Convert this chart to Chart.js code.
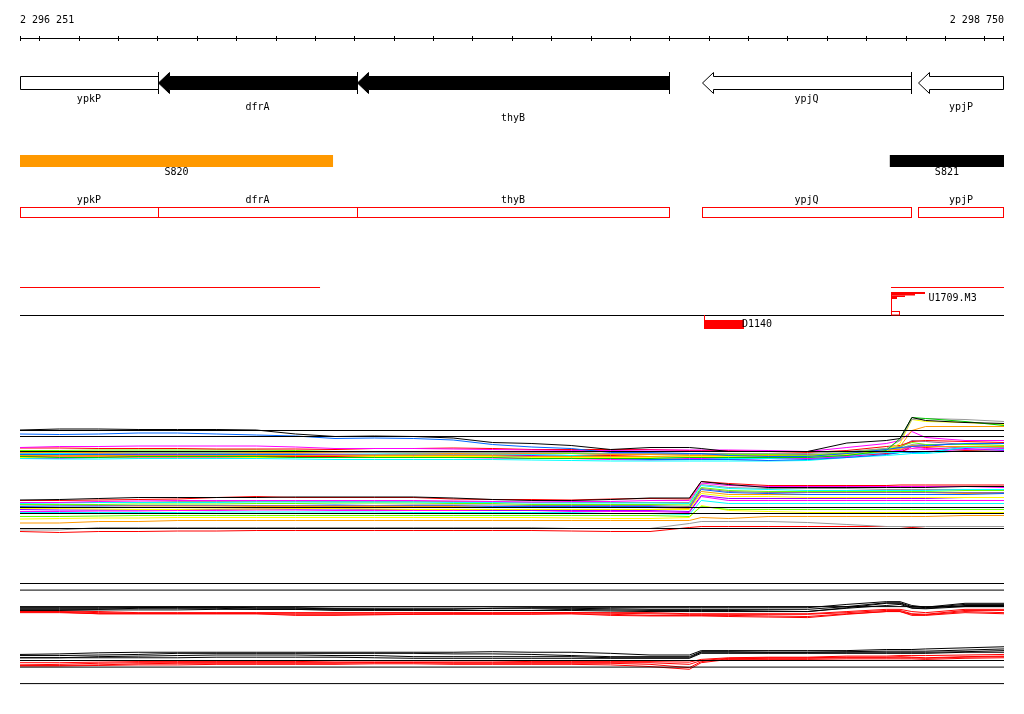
<!DOCTYPE html>
<html><head><meta charset="utf-8">
<script src="https://cdn.jsdelivr.net/npm/chart.js@4.4.0/dist/chart.umd.min.js"></script>
<style>html,body{margin:0;padding:0;background:#fff;}canvas{display:block;}</style>
</head><body>
<canvas id="c" width="1024" height="714"></canvas>
<script>
// ---------- genomic window & ruler ----------
const viewStart = 2296251, viewEnd = 2298750;
const rulerTicks = [2296300,2296400,2296500,2296600,2296700,2296800,2296900,2297000,2297100,2297200,2297300,2297400,2297500,2297600,2297700,2297800,2297900,2298000,2298100,2298200,2298300,2298400,2298500,2298600,2298700];
const rulerLabels = ['2 296 251', '2 298 750'];

// ---------- genes ----------
const geneNames  = ['ypkP','dfrA','thyB','ypjQ','ypjP'];
const geneStarts = [2296100, 2296601, 2297107, 2297983, 2298532];
const geneEnds   = [2296601, 2297107, 2297899, 2298514, 2298900];
const geneStrand = ['-','-','-','-','-'];

// ---------- segments / transcription units / promoters ----------
const segNames  = ['S820','S821'];
const segStarts = [2296100, 2298460];
const segEnds   = [2297046, 2298900];
const tuStarts  = [2296100, 2298463];
const tuEnds    = [2297013, 2298900];
const upNames = ['U1709.M3']; const upPos = [2298463];
const dnNames = ['D1140'];    const dnPos = [2297988];

// ---------- expression tracks: probe positions ----------
const xGrid = [2296251,2296351,2296451,2296551,2296651,2296751,2296851,2296951,2297051,2297151,2297251,2297351,2297451,2297551,2297651,2297751,2297851,2297951,2297981,2298051,2298151,2298251,2298351,2298451,2298486,2298516,2298551,2298651,2298750];
const thresholds = [14.0, 12.8, 9.8];

// panel A (upper strand profiles)
const A1  = [14.1,14.3,14.3,14.2,14.2,14.2,14.1,13.3,12.8,12.9,12.8,12.5,11.6,11.4,11.0,10.2,10.6,10.6,10.4,9.8,9.8,9.8,11.5,12.0,12.4,16.6,16.0,15.6,15.4];
const A2  = [13.3,13.2,13.3,13.5,13.5,13.3,13.1,12.9,12.4,12.5,12.4,12.1,11.2,10.7,10.4,9.6,9.6,9.4,9.4,9.0,8.8,8.8,9.4,10.2,10.6,10.8,11.0,11.4,11.4];
const A3  = [10.6,10.8,10.8,10.9,10.9,10.9,10.9,10.7,10.4,10.4,10.4,10.3,10.2,10.1,10.0,10.0,10.1,10.1,10.1,10.1,10.0,9.8,10.6,11.4,12.0,13.8,12.6,12.0,12.0];
const A4  = [10.5,10.5,10.4,10.4,10.4,10.3,10.3,10.3,10.2,10.4,10.4,10.5,10.4,10.2,10.2,10.2,10.2,10.0,10.0,10.0,9.8,9.6,10.0,10.8,11.0,11.8,12.0,11.8,11.6];
const A5  = [10.0,10.0,10.1,10.1,10.1,10.1,10.1,10.0,9.8,9.8,9.8,9.8,9.6,9.6,9.4,9.4,9.4,9.4,9.4,9.2,9.2,9.0,9.6,10.4,10.8,11.6,11.2,11.2,11.0];
const A6  = [9.6,9.6,9.6,9.7,9.7,9.7,9.6,9.6,9.6,9.6,9.5,9.4,9.5,9.4,9.4,9.2,9.2,9.0,9.0,9.0,9.0,9.0,9.4,10.2,10.2,11.0,10.8,10.8,10.8];
const A7  = [9.5,9.4,9.6,9.6,9.6,9.6,9.6,9.6,9.6,9.5,9.4,9.4,9.4,9.2,9.0,8.8,8.6,8.6,8.6,8.4,8.4,8.6,9.0,9.6,9.6,9.8,9.6,10.6,10.8];
const A8  = [9.4,9.4,9.4,9.4,9.4,9.4,9.4,9.4,9.3,9.2,9.2,9.2,9.2,9.2,9.4,9.2,9.2,9.2,9.2,9.2,9.2,9.0,9.2,10.0,10.4,11.2,10.8,10.6,10.6];
const A9  = [9.2,9.2,9.2,9.1,9.1,9.2,9.2,9.2,9.0,9.0,9.0,9.0,8.8,8.8,8.6,8.4,8.2,8.2,8.2,8.2,8.0,8.2,8.6,9.2,9.6,9.6,9.6,10.6,10.6];
const A10 = [9.0,8.9,8.9,9.0,9.0,9.0,9.0,9.0,9.0,8.9,8.8,8.8,8.8,8.8,8.6,8.6,8.6,8.4,8.4,8.4,8.6,8.4,8.8,9.8,10.0,10.8,10.4,10.2,10.4];
const A11 = [8.6,8.7,8.7,8.7,8.7,8.7,8.6,8.6,8.6,8.8,8.8,8.8,8.8,8.6,8.6,8.6,8.6,8.8,8.8,8.8,8.8,8.8,9.2,10.0,11.4,16.2,15.8,15.6,15.2];
const A12 = [8.8,8.6,8.6,8.8,8.8,8.8,8.8,8.6,8.6,8.6,8.6,8.6,8.6,8.4,8.4,8.4,8.4,8.6,8.6,8.6,8.6,8.6,9.0,10.0,12.4,16.6,16.4,15.8,15.0];
const A13 = [9.8,9.8,9.8,9.8,9.8,9.8,9.8,9.8,9.7,9.6,9.6,9.6,9.6,9.6,9.6,9.4,9.4,9.4,9.4,9.4,9.4,9.4,9.8,10.4,12.0,16.2,16.4,16.2,15.8];
const A14 = [9.0,9.0,9.0,9.0,9.0,9.0,9.0,9.0,9.0,9.0,9.0,9.0,9.0,8.8,8.8,8.8,8.8,8.8,8.8,8.8,8.8,8.8,9.2,9.8,10.8,14.0,14.8,14.8,14.8];
const A15 = [9.3,9.3,9.2,9.2,9.2,9.2,9.2,9.2,9.2,9.2,9.2,9.0,9.0,9.0,8.8,8.8,8.8,8.8,8.8,8.8,8.8,8.8,9.0,9.6,10.0,11.0,11.2,10.4,10.0];
const A16 = [9.6,9.6,9.6,9.6,9.6,9.6,9.6,9.6,9.6,9.6,9.5,9.4,9.4,9.4,9.4,9.4,9.4,9.4,9.4,9.4,9.2,9.2,9.4,10.2,10.6,12.0,11.8,11.2,11.4];
const A17 = [8.8,8.8,8.8,8.8,8.8,8.8,8.8,8.8,8.8,8.8,8.8,8.8,8.8,8.8,9.0,9.0,8.8,8.8,8.8,8.8,8.8,8.8,9.0,9.4,9.6,10.8,10.6,10.0,9.8];
const A18 = [8.4,8.3,8.3,8.4,8.4,8.4,8.4,8.3,8.2,8.2,8.2,8.2,8.2,8.1,8.0,7.9,7.9,7.9,7.9,7.9,7.9,8.0,8.6,9.0,9.2,9.4,9.4,10.0,10.2];
const A19 = [8.4,8.4,8.6,8.6,8.6,8.6,8.6,8.6,8.6,8.6,8.6,8.6,8.5,8.4,8.4,8.2,8.1,8.2,8.2,8.2,8.4,8.4,8.8,9.4,9.8,10.4,10.2,9.8,9.8];

// panel B (lower strand profiles)
const B1  = [15.5,15.6,15.8,16.0,16.0,16.0,16.0,16.1,16.1,16.1,16.1,15.9,15.6,15.4,15.4,15.6,15.9,15.9,19.2,18.6,18.0,18.0,18.0,18.0,18.0,18.0,18.0,18.2,18.2];
const B2  = [15.4,15.4,15.5,15.6,15.7,16.0,16.2,16.0,16.0,16.0,16.0,15.7,15.6,15.6,15.5,15.7,15.8,15.7,19.2,18.8,18.4,18.4,18.4,18.4,18.5,18.5,18.5,18.5,18.5];
const B3  = [15.0,15.0,15.2,15.3,15.4,15.4,15.4,15.4,15.4,15.4,15.4,15.3,15.2,15.1,15.2,15.2,15.4,15.4,18.9,18.4,18.2,18.2,18.2,18.2,18.2,18.2,18.2,18.2,18.0];
const B4  = [14.8,14.9,15.0,15.0,15.0,15.0,15.1,15.1,15.1,15.1,15.1,15.0,15.0,14.9,14.9,14.9,14.9,14.8,18.4,17.8,17.6,17.4,17.4,17.4,17.4,17.4,17.4,17.6,17.6];
const B5  = [15.0,15.0,15.0,15.0,15.2,15.2,15.2,15.2,15.2,15.2,15.2,15.2,15.1,15.0,15.0,15.0,15.0,15.0,18.6,18.0,17.8,17.8,17.8,17.6,17.6,17.6,17.6,17.6,17.6];
const B6  = [14.6,14.6,14.6,14.7,14.7,14.7,14.8,14.8,14.9,14.9,14.9,14.8,14.8,14.6,14.6,14.6,14.6,14.5,18.0,17.4,17.2,17.2,17.2,17.2,17.2,17.2,17.2,17.4,17.4];
const B7  = [14.2,14.3,14.3,14.4,14.4,14.4,14.4,14.4,14.5,14.4,14.4,14.4,14.2,14.2,14.2,14.2,14.2,14.0,17.6,17.0,16.8,16.6,16.6,16.6,16.6,16.6,16.6,16.6,16.8];
const B8  = [14.0,14.0,14.0,14.1,14.1,14.1,14.2,14.2,14.2,14.2,14.2,14.2,14.1,14.0,14.0,14.0,14.0,13.8,17.2,16.6,16.6,16.6,16.6,16.6,16.6,16.6,16.6,16.8,16.8];
const B9  = [13.8,13.8,13.7,13.6,13.6,13.7,13.7,13.8,13.8,13.7,13.6,13.6,13.6,13.6,13.6,13.6,13.6,13.6,16.8,16.2,16.2,16.0,16.0,16.0,16.0,16.0,16.0,16.0,16.0];
const B10 = [13.6,13.5,13.5,13.5,13.6,13.6,13.7,13.7,13.7,13.6,13.6,13.6,13.4,13.4,13.4,13.4,13.4,13.2,16.4,15.8,15.8,15.8,15.8,15.8,15.8,15.8,15.8,16.0,16.0];
const B11 = [13.2,13.2,13.3,13.3,13.4,13.4,13.5,13.5,13.4,13.4,13.4,13.4,13.4,13.4,13.2,13.2,13.2,13.0,16.2,15.4,15.4,15.4,15.4,15.4,15.4,15.4,15.4,15.4,15.4];
const B12 = [14.5,14.5,14.4,14.4,14.4,14.4,14.4,14.4,14.4,14.4,14.5,14.5,14.5,14.4,14.4,14.4,14.4,14.2,17.8,17.2,17.0,17.0,17.0,17.0,17.0,17.0,17.0,17.0,17.0];
const B13 = [13.0,13.0,13.0,13.0,13.0,13.1,13.1,13.1,13.1,13.1,13.0,13.0,13.0,13.0,13.0,12.8,12.8,12.6,15.4,14.8,14.8,14.8,14.8,14.8,14.8,14.8,14.8,14.8,14.8];
const B14 = [12.2,12.2,12.3,12.4,12.4,12.4,12.4,12.4,12.4,12.4,12.4,12.4,12.4,12.4,12.4,12.4,12.4,12.2,14.2,13.6,13.6,13.6,13.6,13.6,13.6,13.6,13.6,13.6,13.6];
const B15 = [11.7,11.8,11.9,11.9,12.0,12.0,12.0,12.0,12.0,12.0,12.0,12.0,12.0,12.0,11.9,11.8,11.8,12.0,14.4,13.4,13.2,13.0,13.0,13.0,13.0,13.0,13.0,13.0,13.0];
const B16 = [10.9,10.9,11.2,11.2,11.4,11.4,11.4,11.4,11.4,11.4,11.4,11.4,11.4,11.4,11.4,11.4,11.4,11.4,12.0,11.8,12.2,12.2,12.2,12.2,12.2,12.2,12.2,12.4,12.4];
const B17 = [9.5,9.5,10.0,10.0,10.0,10.0,10.0,10.0,10.0,10.0,10.0,10.0,10.0,10.0,9.8,9.8,9.8,10.8,11.2,11.2,11.2,11.0,10.6,10.2,10.2,10.2,10.2,10.2,10.2];
const B18 = [9.2,9.0,9.2,9.2,9.3,9.3,9.4,9.4,9.4,9.4,9.4,9.4,9.4,9.4,9.3,9.2,9.2,10.0,10.2,10.2,10.2,10.2,10.2,10.2,10.2,10.0,9.8,9.8,9.8];

// panel C (upper strand, two conditions)
const Ck1 = [9.6,9.6,9.6,9.6,9.7,9.7,9.6,9.6,9.5,9.5,9.5,9.5,9.5,9.6,9.6,9.6,9.6,9.6,9.6,9.6,9.6,9.6,10.2,10.7,10.7,10.0,9.7,10.4,10.4];
const Ck2 = [9.5,9.5,9.5,9.6,9.6,9.6,9.5,9.5,9.4,9.3,9.3,9.3,9.5,9.5,9.5,9.4,9.3,9.3,9.3,9.3,9.3,9.3,9.8,10.5,10.5,9.8,9.6,10.2,10.2];
const Ck3 = [9.3,9.3,9.3,9.5,9.5,9.5,9.3,9.3,9.3,9.3,9.2,9.1,9.1,9.1,9.3,9.2,9.1,9.1,9.1,9.1,9.0,8.9,9.6,10.4,10.4,9.6,9.5,10.0,10.0];
const Ck4 = [9.1,9.1,9.2,9.2,9.2,9.3,9.3,9.3,9.1,9.1,9.1,9.1,9.1,9.1,9.1,9.0,8.9,8.9,8.9,8.9,8.9,8.9,9.5,10.0,10.2,9.5,9.4,9.8,9.8];
const Cr1 = [9.0,9.0,8.9,8.7,8.7,8.7,8.7,8.7,8.7,8.7,8.7,8.7,8.7,8.7,8.7,8.7,8.7,8.5,8.5,8.5,8.5,8.5,8.9,9.3,9.3,8.9,8.7,9.3,9.3];
const Cr2 = [8.9,8.9,8.7,8.6,8.6,8.6,8.6,8.6,8.6,8.6,8.6,8.6,8.6,8.7,8.7,8.6,8.5,8.4,8.4,8.4,8.4,8.4,8.7,9.1,9.1,8.5,8.4,9.1,9.1];
const Cr3 = [8.8,8.8,8.5,8.5,8.5,8.5,8.5,8.4,8.4,8.4,8.4,8.5,8.5,8.5,8.5,8.4,8.2,8.2,8.2,8.2,8.1,8.0,8.5,8.9,8.9,8.4,8.3,8.9,8.7];
const Cr4 = [8.7,8.7,8.5,8.5,8.5,8.5,8.5,8.2,8.2,8.3,8.4,8.4,8.4,8.4,8.5,8.2,8.1,8.1,8.1,8.0,7.9,7.8,8.4,8.9,8.9,8.2,8.2,8.7,8.5];

// panel D (lower strand, two conditions)
const Dk1 = [15.1,15.2,15.4,15.5,15.5,15.5,15.5,15.5,15.5,15.5,15.5,15.5,15.6,15.5,15.5,15.3,15.0,15.0,15.8,15.8,15.8,15.8,15.8,16.0,16.0,16.0,16.1,16.3,16.5];
const Dk2 = [14.9,14.9,15.0,15.1,15.3,15.3,15.3,15.3,15.3,15.3,15.3,15.2,15.2,15.1,14.9,14.7,14.7,14.7,15.6,15.6,15.5,15.5,15.6,15.7,15.7,15.7,15.7,15.9,16.1];
const Dk3 = [14.5,14.5,14.7,14.8,14.9,15.0,15.0,15.0,14.9,14.9,14.7,14.7,14.7,14.7,14.7,14.5,14.5,14.5,15.5,15.5,15.5,15.5,15.5,15.5,15.5,15.5,15.5,15.6,15.8];
const Dk4 = [14.5,14.5,14.5,14.5,14.5,14.6,14.6,14.6,14.6,14.5,14.4,14.4,14.4,14.4,14.4,14.4,14.4,14.4,15.3,15.3,15.3,15.3,15.3,15.3,15.3,15.3,15.3,15.5,15.5];
const Dr1 = [13.6,13.6,13.7,13.8,13.8,13.8,13.8,13.8,13.9,13.9,13.9,13.9,13.9,13.8,13.8,13.8,13.8,13.7,14.2,14.5,14.6,14.6,14.8,14.8,14.9,14.9,14.9,15.0,15.1];
const Dr2 = [13.2,13.3,13.5,13.6,13.6,13.6,13.6,13.6,13.6,13.6,13.6,13.6,13.6,13.6,13.6,13.6,13.6,13.3,14.0,14.4,14.5,14.5,14.6,14.6,14.7,14.6,14.5,14.7,14.8];
const Dr3 = [13.1,13.1,13.2,13.4,13.5,13.5,13.5,13.5,13.5,13.6,13.6,13.5,13.5,13.5,13.5,13.5,13.3,12.7,13.8,14.3,14.4,14.4,14.5,14.5,14.5,14.5,14.4,14.6,14.7];
const Dr4 = [13.0,13.0,13.1,13.2,13.2,13.3,13.3,13.3,13.3,13.4,13.4,13.3,13.3,13.3,13.3,13.2,12.9,12.4,13.6,14.2,14.2,14.2,14.3,14.3,14.3,14.3,14.2,14.4,14.5];

// ---------- styling / layout ----------
const H = 714;
const FONT = '10px "DejaVu Sans Mono", "Liberation Mono", monospace';
function panelAxis(basePx, pxPerUnit) {
  const max = basePx / pxPerUnit;
  return { type: 'linear', display: false, min: max - H / pxPerUnit, max: max };
}
const K='#000000', R='#ff0000', M='#ff00ff', CY='#00ffff', BL='#0066ff', G='#66ff00', G2='#00cc00',
      Y='#ffff00', O='#ff9900', GR='#999999', P='#9900ff', MV='#996699';

const seriesDefs = [
  ['yA', A19, M], ['yA', A18, CY], ['yA', A17, R], ['yA', A16, MV], ['yA', A15, P], ['yA', A10, M],
  ['yA', A9, BL], ['yA', A8, GR], ['yA', A7, CY], ['yA', A6, O], ['yA', A5, G], ['yA', A4, R],
  ['yA', A3, M], ['yA', A14, O], ['yA', A11, Y], ['yA', A13, GR], ['yA', A12, G2], ['yA', A2, BL], ['yA', A1, K],
  ['yB', B18, R], ['yB', B17, GR], ['yB', B16, O], ['yB', B15, Y], ['yB', B14, G], ['yB', B13, CY],
  ['yB', B11, M], ['yB', B10, P], ['yB', B9, Y], ['yB', B8, O], ['yB', B7, BL], ['yB', B12, MV],
  ['yB', B6, G], ['yB', B5, GR], ['yB', B4, CY], ['yB', B3, M], ['yB', B2, R], ['yB', B1, K],
  ['yC', Cr4, R], ['yC', Cr3, R], ['yC', Cr2, R], ['yC', Cr1, R],
  ['yC', Ck4, K], ['yC', Ck3, K], ['yC', Ck2, K], ['yC', Ck1, K],
  ['yD', Dr4, R], ['yD', Dr3, R], ['yD', Dr2, R], ['yD', Dr1, R],
  ['yD', Dk4, K], ['yD', Dk3, K], ['yD', Dk2, K], ['yD', Dk1, K]
];
const datasets = seriesDefs.map(([ax, vals, col]) => ({
  type: 'line', yAxisID: ax,
  data: xGrid.map((x, i) => ({ x: x, y: vals[i] })),
  borderColor: col, borderWidth: 1, pointRadius: 0, fill: false, tension: 0
}));
['yA','yB','yC','yD'].forEach(ax => thresholds.forEach(t => datasets.push({
  type: 'line', yAxisID: ax,
  data: [{ x: viewStart, y: t }, { x: viewEnd, y: t }],
  borderColor: K, borderWidth: 1, pointRadius: 0, fill: false, tension: 0
})));
const N = datasets.length;
datasets.forEach((d, i) => { d.order = N - i; });

const annotPlugin = {
  id: 'genomeAnnot',
  afterDatasetsDraw(chart) {
    const ctx = chart.ctx, xs = chart.scales.x;
    const L = xs.left, Rr = xs.right;
    const px = v => xs.getPixelForValue(Math.max(viewStart, Math.min(viewEnd, v)));
    const cr = x => Math.min(Math.round(x), Math.round(Rr) - 1) + 0.5;
    ctx.save();
    ctx.font = FONT; ctx.textBaseline = 'middle'; ctx.lineWidth = 1;
    // ruler
    ctx.fillStyle = K;
    ctx.textAlign = 'left'; ctx.fillText(rulerLabels[0], L, 20);
    ctx.textAlign = 'right'; ctx.fillText(rulerLabels[1], Rr, 20);
    ctx.strokeStyle = K;
    ctx.beginPath(); ctx.moveTo(L, 38.5); ctx.lineTo(Rr, 38.5);
    [viewStart].concat(rulerTicks, [viewEnd]).forEach(t => { const x = cr(px(t)); ctx.moveTo(x, 36); ctx.lineTo(x, 41); });
    ctx.stroke();
    // genes (arrows)
    const gTop = 76.5, gBot = 89.5, hTop = 72.5, hBot = 93.5, head = 11, mid = 83;
    const labelY = [99, 107, 118], labelRow = [0, 1, 2, 0, 1];
    const geneFill = ['#ffffff', '#000000', '#000000', '#ffffff', '#ffffff'];
    geneNames.forEach((name, i) => {
      const s = geneStarts[i], e = geneEnds[i];
      const x1 = cr(px(s)), x2 = cr(px(e));
      const tipIn = geneStrand[i] === '-' ? s > viewStart : e < viewEnd;
      const endIn = geneStrand[i] === '-' ? e < viewEnd : s > viewStart;
      ctx.beginPath();
      if (tipIn) { ctx.moveTo(x1, mid); ctx.lineTo(x1 + head, hTop); ctx.lineTo(x1 + head, gTop); }
      else { ctx.moveTo(x1, gBot); ctx.lineTo(x1, gTop); }
      ctx.lineTo(x2, gTop); ctx.lineTo(x2, gBot);
      if (tipIn) { ctx.lineTo(x1 + head, gBot); ctx.lineTo(x1 + head, hBot); }
      ctx.closePath();
      ctx.fillStyle = geneFill[i]; ctx.fill();
      ctx.strokeStyle = K; ctx.stroke();
      if (endIn) { ctx.beginPath(); ctx.moveTo(x2, 72); ctx.lineTo(x2, 94); ctx.stroke(); }
      ctx.fillStyle = K; ctx.textAlign = 'center';
      ctx.fillText(name, (px(s) + px(e)) / 2, labelY[labelRow[i]]);
    });
    // segments
    const segCol = ['#ff9900', '#000000'];
    segNames.forEach((name, i) => {
      const x1 = px(segStarts[i]), x2 = px(segEnds[i]);
      ctx.fillStyle = segCol[i]; ctx.fillRect(x1, 155, x2 - x1, 12);
      ctx.fillStyle = K; ctx.textAlign = 'center'; ctx.fillText(name, (x1 + x2) / 2, 172);
    });
    // gene boxes (second track)
    geneNames.forEach((name, i) => {
      const x1 = cr(px(geneStarts[i])), x2 = cr(px(geneEnds[i]));
      ctx.strokeStyle = R; ctx.strokeRect(x1, 207.5, x2 - x1, 10);
      ctx.fillStyle = K; ctx.textAlign = 'center';
      ctx.fillText(name, (px(geneStarts[i]) + px(geneEnds[i])) / 2, 200.5);
    });
    // transcription units
    ctx.strokeStyle = R; ctx.beginPath();
    tuStarts.forEach((s, i) => { ctx.moveTo(px(s), 287.5); ctx.lineTo(px(tuEnds[i]), 287.5); });
    ctx.stroke();
    // baseline
    ctx.strokeStyle = K; ctx.beginPath(); ctx.moveTo(L, 315.5); ctx.lineTo(Rr, 315.5); ctx.stroke();
    // up-shift promoters (stepped flag)
    upNames.forEach((name, i) => {
      const x = cr(px(upPos[i]));
      ctx.strokeStyle = R; ctx.fillStyle = R;
      ctx.beginPath(); ctx.moveTo(x, 292); ctx.lineTo(x, 312); ctx.stroke();
      ctx.strokeRect(x, 311.5, 8, 3.5);
      ctx.fillRect(x - 0.5, 292, 34, 2);
      ctx.fillRect(x - 0.5, 294, 24, 1.5);
      ctx.fillRect(x - 0.5, 295.5, 14, 1.5);
      ctx.fillRect(x - 0.5, 297, 6, 2);
      ctx.fillStyle = K; ctx.textAlign = 'left'; ctx.fillText(name, x + 37, 298);
    });
    // down-shift
    dnNames.forEach((name, i) => {
      const x = cr(px(dnPos[i]));
      ctx.strokeStyle = R; ctx.fillStyle = R;
      ctx.beginPath(); ctx.moveTo(x, 315); ctx.lineTo(x, 321); ctx.stroke();
      ctx.fillRect(x - 0.5, 320, 40, 9);
      ctx.fillStyle = K; ctx.textAlign = 'left'; ctx.fillText(name, x + 37.5, 324.5);
    });
    ctx.restore();
  }
};

new Chart(document.getElementById('c'), {
  type: 'line',
  data: { datasets: datasets },
  options: {
    responsive: false, animation: false, devicePixelRatio: 1, events: [],
    layout: { padding: { left: 20, right: 20, top: 0, bottom: 0 } },
    plugins: { legend: { display: false }, tooltip: { enabled: false } },
    scales: {
      x: { type: 'linear', display: false, min: viewStart, max: viewEnd },
      yA: panelAxis(500.5, 5),
      yB: panelAxis(577.5, 5),
      yC: panelAxis(660.5, 5.5),
      yD: panelAxis(737.5, 5.5)
    }
  },
  plugins: [annotPlugin]
});
</script>
</body></html>
